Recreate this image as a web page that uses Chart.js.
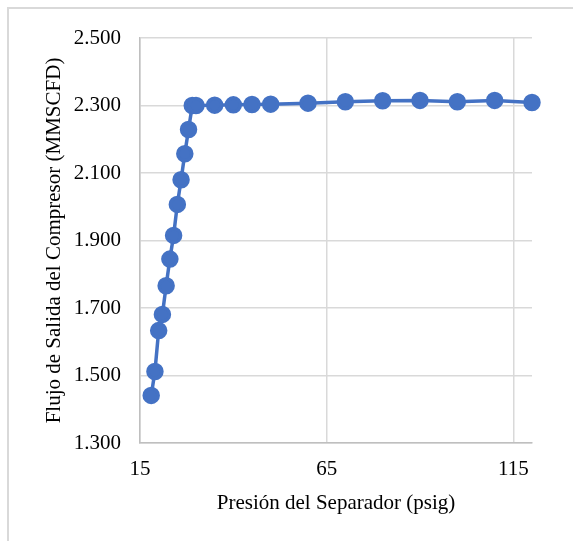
<!DOCTYPE html>
<html>
<head>
<meta charset="utf-8">
<script src="https://cdn.jsdelivr.net/npm/chart.js@4.4.1/dist/chart.umd.min.js"></script>
<style>
  html, body { margin: 0; padding: 0; background: #fff; }
  #frame {
    position: absolute; left: 7px; top: 7px; width: 600px; height: 600px;
    border-left: 2px solid #d9d9d9; border-top: 2px solid #d9d9d9;
  }
  #wrap { position: absolute; left: 0; top: 0; width: 573px; height: 541px; }
</style>
</head>
<body>
<div id="frame"></div>
<div id="wrap"><canvas id="chart"></canvas></div>
<script>
// separator pressure (psig) vs compressor outlet flow (MMSCFD)
var pressure = [18, 19, 20, 21, 22, 23, 24, 25, 26, 27, 28, 29, 30, 35, 40, 45, 50, 60, 70, 80, 90, 100, 110, 120];
var flow = [1.441, 1.512, 1.633, 1.681, 1.766, 1.845, 1.915, 2.007, 2.080, 2.157, 2.229, 2.300, 2.300, 2.301, 2.302, 2.303, 2.304, 2.307, 2.311, 2.314, 2.315, 2.311, 2.315, 2.309];
var xTicks = [15, 65, 115];
var yTicks = [1.3, 1.5, 1.7, 1.9, 2.1, 2.3, 2.5];

var points = pressure.map(function (p, i) { return { x: p, y: flow[i] }; });

var serif = 'Liberation Serif, Times New Roman, serif';

new Chart(document.getElementById('chart'), {
    type: 'scatter',
    data: {
        datasets: [{
            data: points,
            showLine: true,
            borderColor: '#4472C4',
            backgroundColor: '#4472C4',
            borderWidth: 3.5,
            pointRadius: 7,
            pointHoverRadius: 7,
            clip: false
        }]
    },
    options: {
        responsive: true,
        maintainAspectRatio: false,
        animation: false,
        layout: { padding: { left: 0, top: 38, right: 41, bottom: 0 } },
        plugins: { legend: { display: false }, tooltip: { enabled: false } },
        scales: {
            x: {
                type: 'linear',
                min: 15,
                max: 120,
                afterBuildTicks: function (scale) {
                    scale.ticks = xTicks.map(function (v) { return { value: v }; });
                },
                afterFit: function (scale) { scale.height = 98; },
                grid: { color: '#d9d9d9', lineWidth: 1.5, drawTicks: false },
                border: { color: '#bfbfbf', width: 1.5 },
                ticks: { color: '#000', padding: 14, font: { family: serif, size: 21 } },
                title: {
                    display: true,
                    text: 'Presión del Separador (psig)',
                    color: '#000',
                    font: { family: serif, size: 21 },
                    padding: { top: 0, bottom: 25 }
                }
            },
            y: {
                min: 1.3,
                max: 2.5,
                afterBuildTicks: function (scale) {
                    scale.ticks = yTicks.map(function (v) { return { value: v }; });
                },
                afterFit: function (scale) { scale.width = 140; },
                grid: { color: '#d9d9d9', lineWidth: 1.5, drawTicks: false },
                border: { color: '#bfbfbf', width: 1.5 },
                ticks: {
                    color: '#000',
                    padding: 19,
                    font: { family: serif, size: 21 },
                    callback: function (v) { return Number(v).toFixed(3); }
                },
                title: {
                    display: true,
                    text: 'Flujo de Salida del Compresor (MMSCFD)',
                    color: '#000',
                    font: { family: serif, size: 21 },
                    padding: { top: 42, bottom: 0 }
                }
            }
        }
    }
});
</script>
</body>
</html>
